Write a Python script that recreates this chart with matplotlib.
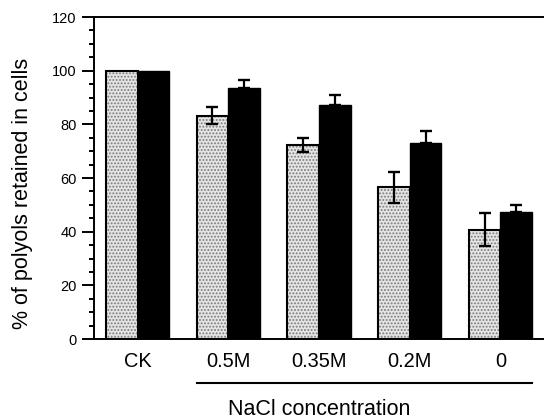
import numpy as np
import matplotlib
matplotlib.use('Agg')
import matplotlib.pyplot as plt
from matplotlib.ticker import MultipleLocator

plt.rcParams['font.family'] = ['Liberation Sans', 'DejaVu Sans']
plt.rcParams['hatch.linewidth'] = 0.9

cats = ['CK', '0.5M', '0.35M', '0.2M', '0']
light = [100, 83.2, 72.4, 56.5, 40.8]
light_err = [0, 3.2, 2.6, 5.8, 6.0]
dark = [100, 93.6, 87.3, 73.0, 47.4]
dark_err = [0, 2.9, 3.7, 4.4, 2.4]

x = np.arange(len(cats))
w = 0.35

fig = plt.figure(figsize=(5.44, 4.19), dpi=100)
ax = fig.add_axes([0.1728, 0.1909, 0.8272, 0.7685])

xl = x - w / 2
xd = x + w / 2
# stippled light bars: texture layer then black outline
ax.bar(xl, light, w, color='#e4e4e4', hatch='.....', edgecolor='#7a7a7a', lw=0, zorder=2)
ax.bar(xl, light, w, facecolor='none', edgecolor='black', lw=1.5, zorder=3)
ax.bar(xd, dark, w, color='black', edgecolor='black', lw=1.0, zorder=2)

idx = x[1:]
ax.errorbar(xl[1:], np.array(light)[1:], yerr=np.array(light_err)[1:], fmt='none',
            ecolor='black', elinewidth=1.6, capsize=4.3, capthick=1.7, zorder=4)
ax.errorbar(xd[1:], np.array(dark)[1:],
            yerr=[np.zeros(len(idx)), np.array(dark_err)[1:]], fmt='none',
            ecolor='black', elinewidth=1.6, capsize=4.3, capthick=1.7, zorder=4)

ax.set_xlim(-0.48, 4.48)
ax.set_ylim(0, 120)
ax.yaxis.set_major_locator(MultipleLocator(20))
ax.yaxis.set_minor_locator(MultipleLocator(5))
ax.tick_params(axis='y', which='major', direction='out', length=8.5, width=1.4,
               labelsize=10.5, pad=4)
ax.tick_params(axis='y', which='minor', direction='out', length=3.8, width=1.4)
ax.set_xticks(x)
ax.set_xticklabels(cats)
ax.tick_params(axis='x', length=0, labelsize=14.4, pad=9)

for s in ['left', 'top', 'bottom']:
    ax.spines[s].set_linewidth(1.4)
ax.spines['right'].set_visible(False)

tr = ax.get_xaxis_transform()
ax.plot([x[1] - w, x[-1] + w], [-0.137, -0.137], color='black', lw=1.5,
        transform=tr, clip_on=False)
ax.text(0.5, -0.236, 'NaCl concentration', transform=ax.transAxes,
        ha='center', va='baseline', fontsize=15.5)
ax.text(-0.158, 0.453, '% of polyols retained in cells', transform=ax.transAxes,
        rotation=90, ha='center', va='center', fontsize=15.5)

fig.savefig('out.png', dpi=100)
